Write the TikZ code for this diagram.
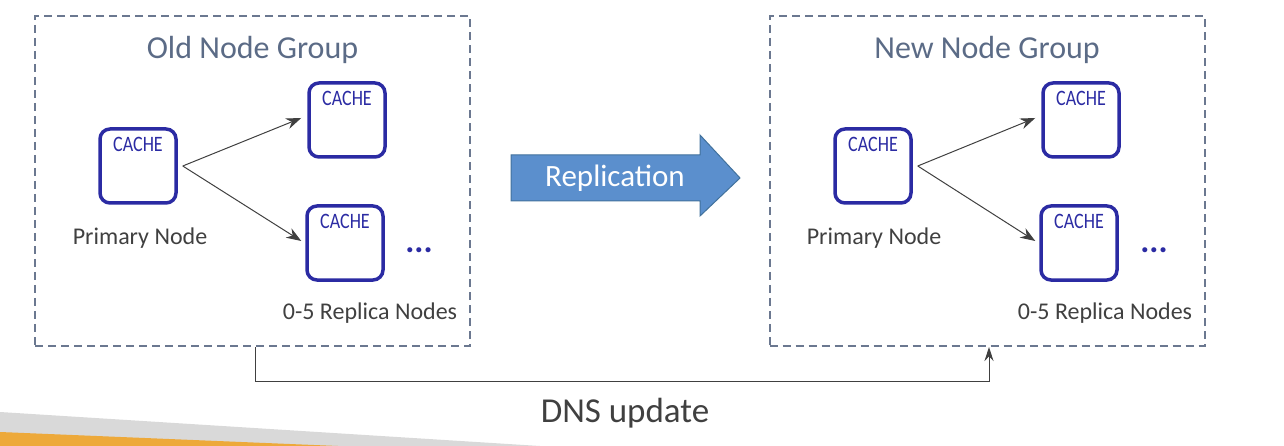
\documentclass[tikz,border=0pt]{standalone}
\usepackage{fontspec}
\setmainfont{Carlito}
\newfontfamily\cachefont[FakeStretch=0.82]{Carlito}
\usetikzlibrary{arrows.meta,positioning}
\definecolor{cacheblue}{HTML}{2B2BA3}
\definecolor{slate}{HTML}{5B6B86}
\definecolor{dashgray}{HTML}{6B7890}
\definecolor{txt}{HTML}{404040}
\definecolor{arrfill}{HTML}{5B8FCD}
\definecolor{arrdraw}{HTML}{41719C}
\definecolor{bandgray}{HTML}{D9D9D9}
\definecolor{bandorange}{HTML}{EDA93A}
\tikzset{
  group/.style={draw=dashgray,line width=2pt,dash pattern=on 8pt off 5pt,minimum width=435pt,minimum height=330pt,inner sep=0pt},
  cachebox/.style={draw=cacheblue,line width=3.5pt,rounded corners=10pt,minimum width=76pt,minimum height=74pt,inner sep=0pt},
  cachelbl/.style={text=cacheblue,font=\cachefont\fontsize{22}{22}\selectfont},
  title/.style={text=slate,font=\fontsize{32}{34}\selectfont},
  lbl/.style={text=txt,font=\fontsize{24}{26}\selectfont},
  dots/.style={text=cacheblue,font=\bfseries\fontsize{34}{34}\selectfont},
  conn/.style={draw=txt,line width=1pt,-{Stealth[length=15pt,width=11pt]}},
}
\begin{document}
\begin{tikzpicture}[x=1pt,y=-1pt]
\useasboundingbox (0,0) rectangle (1284,446);
% bottom decoration
\fill[bandgray] (0,412) -- (540,446) -- (0,446) -- cycle;
\fill[bandorange] (0,432) -- (338,446) -- (0,446) -- cycle;

% groups
\node[group] (old) at (252.5,181) {};
\node[group] (new) at (987,181) {};
\node[title] (oldt) at (252.5,50) {Old Node Group};
\node[title] (newt) at (987,50) {New Node Group};

% old group
\node[cachebox] (p1) at (138,166) {};
\node[cachelbl] (p1l) at (138,144) {CACHE};
\node[cachebox] (r1) at (347,120) {};
\node[cachelbl] (r1l) at (347,98) {CACHE};
\node[cachebox] (s1) at (345,243) {};
\node[cachelbl] (s1l) at (345,221) {CACHE};
\node[lbl] (pn1) at (140,238) {Primary Node};
\node[lbl] (rn1) at (370,313) {0-5 Replica Nodes};
\node[dots] (d1) at (419,250) {...};
\draw[conn] ([xshift=5pt]p1.east) -- ([xshift=-6pt,yshift=2pt]r1.west);
\draw[conn] ([xshift=5pt]p1.east) -- ([xshift=-4pt,yshift=2pt]s1.west);

% new group
\node[cachebox] (p2) at (873,166) {};
\node[cachelbl] (p2l) at (873,144) {CACHE};
\node[cachebox] (r2) at (1081,120) {};
\node[cachelbl] (r2l) at (1081,98) {CACHE};
\node[cachebox] (s2) at (1079,243) {};
\node[cachelbl] (s2l) at (1079,221) {CACHE};
\node[lbl] (pn2) at (874,238) {Primary Node};
\node[lbl] (rn2) at (1105,313) {0-5 Replica Nodes};
\node[dots] (d2) at (1154,250) {...};
\draw[conn] ([xshift=5pt]p2.east) -- ([xshift=-6pt,yshift=2pt]r2.west);
\draw[conn] ([xshift=5pt]p2.east) -- ([xshift=-4pt,yshift=2pt]s2.west);

% replication arrow
\draw[fill=arrfill,draw=arrdraw,line width=1pt]
  (511,155) -- (700,155) -- (700,135) -- (740,178) -- (700,216) -- (700,201) -- (511,201) -- cycle;
\node[text=white,font=\fontsize{31}{33}\selectfont] (rep) at (615,178) {Replication};

% DNS update
\coordinate (dnsl) at ([xshift=2.5pt]old.south);
\coordinate (dnsr) at ([xshift=2pt]new.south);
\draw[draw=txt,line width=1pt,-{Stealth[length=14pt,width=9pt]}] (dnsl) -- ++(0,34) -| (dnsr);
\node[text=txt,font=\fontsize{35}{37}\selectfont] (dns) at (625,413) {DNS update};
\end{tikzpicture}
\end{document}
